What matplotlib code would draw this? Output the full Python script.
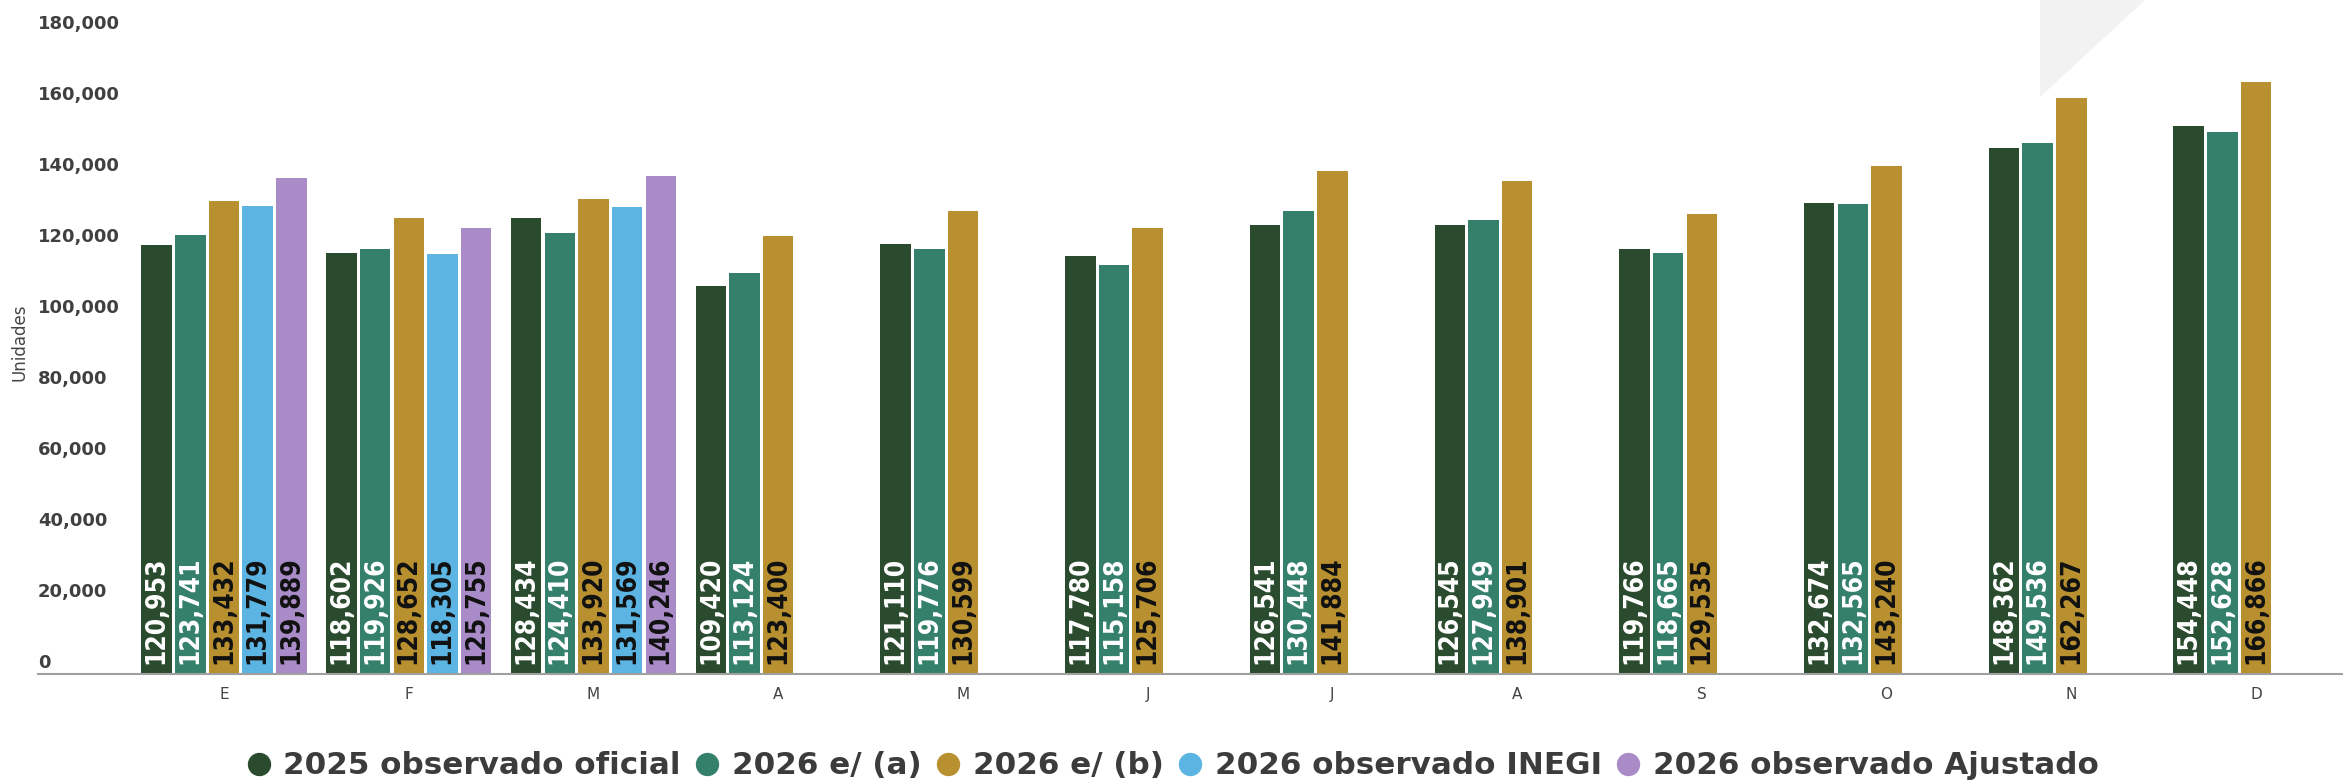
import os
import matplotlib
matplotlib.use('Agg')
import matplotlib.pyplot as plt
from matplotlib import font_manager as fm
from matplotlib.font_manager import FontProperties
from matplotlib.lines import Line2D
from matplotlib.patches import Polygon
from matplotlib.textpath import TextPath
import matplotlib.transforms as mtransforms

# ---------------- data ----------------
months = ['E', 'F', 'M', 'A', 'M', 'J', 'J', 'A', 'S', 'O', 'N', 'D']
obs_2025 = [120953, 118602, 128434, 109420, 121110, 117780, 126541, 126545, 119766, 132674, 148362, 154448]
est_2026_a = [123741, 119926, 124410, 113124, 119776, 115158, 130448, 127949, 118665, 132565, 149536, 152628]
est_2026_b = [133432, 128652, 133920, 123400, 130599, 125706, 141884, 138901, 129535, 143240, 162267, 166866]
obs_2026_inegi = [131779, 118305, 131569]
obs_2026_ajust = [139889, 125755, 140246]
series_names = ['2025 observado oficial', '2026 e/ (a)', '2026 e/ (b)',
                '2026 observado INEGI', '2026 observado Ajustado']
yticks = [0, 20000, 40000, 60000, 80000, 100000, 120000, 140000, 160000, 180000]

# ---------------- style ----------------
colors = ['#2b4b2f', '#35806a', '#b8902f', '#5cb4e2', '#a98bc8']
label_colors = ['white', 'white', '#111111', '#111111', '#111111']

W, H, DPI = 2343, 781, 100
fig = plt.figure(figsize=(W / DPI, H / DPI), dpi=DPI)
fig.patch.set_facecolor('white')

# decorative light triangle top-right
tri = Polygon([(2040 / W, 1.0), (2040 / W, 1 - 97 / H), (2145 / W, 1.0)],
              closed=True, transform=fig.transFigure, facecolor='#f2f2f2',
              edgecolor='none', zorder=-5)
fig.patches.append(tri)

base_y = 674.3
ax = fig.add_axes([38 / W, (H - base_y) / H, (W - 38) / W, base_y / H])
ax.patch.set_alpha(0)
ax.set_xlim(-1.007, 11.471)
ax.set_ylim(0, 189944)


def pick_bar_font():
    prefs = ['DejaVuSansCondensed-Bold.', 'RobotoCondensed-Bold.']
    for p in prefs:
        for f in fm.fontManager.ttflist:
            if os.path.basename(f.fname).startswith(p):
                return FontProperties(fname=f.fname)
    return FontProperties(family='DejaVu Sans', weight='bold')


fp_bar = pick_bar_font()
tp = TextPath((0, 0), '120,953', size=100, prop=fp_bar)
bar_fs = 100 * (103 * 72 / DPI) / tp.get_extents().width
fp_bar.set_size(bar_fs)

all_series = [obs_2025, est_2026_a, est_2026_b, obs_2026_inegi, obs_2026_ajust]
slot = 0.1822
bw = 0.165
for k, vals in enumerate(all_series):
    xs = [i + (k - 2) * slot for i in range(len(vals))]
    ax.bar(xs, vals, width=bw, color=colors[k], zorder=2, linewidth=0)
    for x, v in zip(xs, vals):
        ax.annotate(f'{v:,}', xy=(x, 0), xytext=(0, 7.2), textcoords='offset points',
                    rotation=90, ha='center', va='bottom', color=label_colors[k],
                    fontproperties=fp_bar, zorder=3)

# spines
for s in ['top', 'right', 'left']:
    ax.spines[s].set_visible(False)
ax.spines['bottom'].set_color('#a0a0a0')
ax.spines['bottom'].set_linewidth(1.5)
ax.spines['bottom'].set_zorder(4)

# x ticks
ax.set_xticks(range(len(months)))
ax.set_xticklabels(months)
ax.tick_params(axis='x', length=0, pad=9, labelsize=11, labelcolor='#444444')

# y ticks: left aligned inside, raised
ax.set_yticks(yticks)
ax.set_yticklabels([f'{v:,}' for v in yticks])
ax.tick_params(axis='y', length=0, pad=0, labelsize=13, labelcolor='#404040')
off = mtransforms.ScaledTranslation(0, 13 / DPI, fig.dpi_scale_trans)
for lab in ax.get_yticklabels():
    lab.set_horizontalalignment('left')
    lab.set_fontweight('bold')
    lab.set_transform(lab.get_transform() + off)

fig.text(20 / W, 1 - 342 / H, 'Unidades', rotation=90, ha='center', va='center',
         fontsize=12, color='#444444')

# legend
handles = [Line2D([], [], marker='o', linestyle='none', markersize=15.8,
                  markerfacecolor=c, markeredgecolor=c) for c in colors]
fig.legend(handles, series_names, loc='center', bbox_to_anchor=(0.5004, 1 - 766 / H),
           ncol=5, frameon=False,
           prop=FontProperties(family='DejaVu Sans', weight='bold', size=22.3),
           handlelength=0.8, handletextpad=0.4, columnspacing=0.45,
           labelcolor='#3c3c3c', borderpad=0, borderaxespad=0)

fig.savefig('out.png', dpi=DPI, facecolor='white')
